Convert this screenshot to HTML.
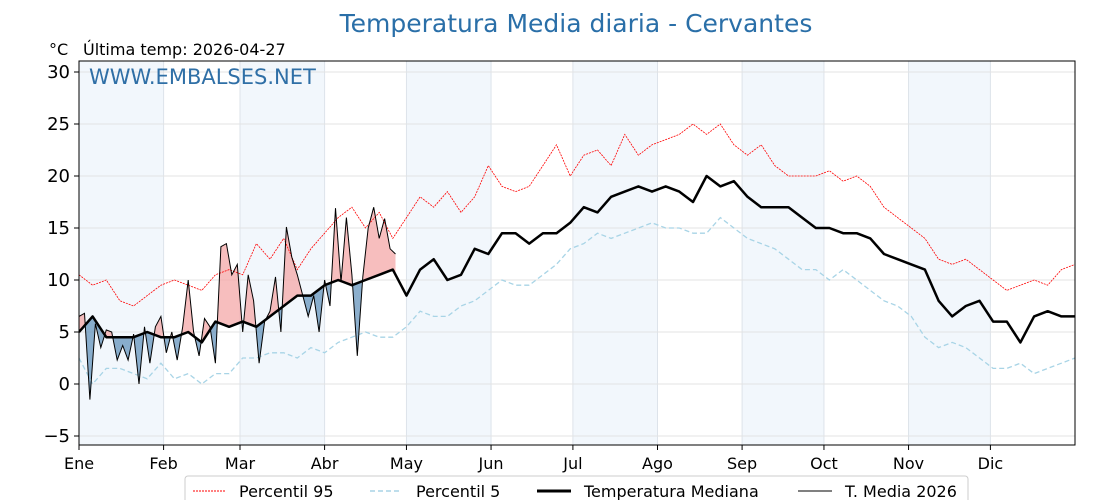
<!DOCTYPE html>
<html><head><meta charset="utf-8"><style>
body{margin:0;background:#fff;}
svg{display:block;font-family:"DejaVu Sans","Liberation Sans",sans-serif;}
</style></head><body>
<svg id="chart" width="1120" height="500">
<defs>
<clipPath id="plotclip"><rect x="79" y="61" width="996" height="384"/></clipPath>
<clipPath id="aboveclip"><path id="aboveP" d=""/></clipPath>
<clipPath id="belowclip"><path id="belowP" d=""/></clipPath>
</defs>
<g id="bands"></g>
<g id="grid"></g>
<g id="series" clip-path="url(#plotclip)"></g>
<rect x="79" y="61" width="996" height="384" fill="none" stroke="#000" stroke-width="1"/>
<g id="axes"></g>
<text x="576" y="32" text-anchor="middle" font-size="25" fill="#2a6fa8">Temperatura Media diaria - Cervantes</text>
<text x="49" y="55" font-size="16" fill="#000">°C</text>
<text x="83" y="55" font-size="16" fill="#000">Última temp: 2026-04-27</text>
<text x="89" y="84" font-size="21" fill="#2f6fa6">WWW.EMBALSES.NET</text>
<g>
<rect x="185" y="476" width="783" height="30" rx="3" fill="#fff" stroke="#ccc"/>
<line x1="193" y1="491" x2="225" y2="491" stroke="red" stroke-width="1" stroke-dasharray="2,1"/>
<text x="239" y="497" font-size="16">Percentil 95</text>
<line x1="370" y1="491" x2="402" y2="491" stroke="#a8d4e6" stroke-width="1.5" stroke-dasharray="5,3"/>
<text x="416" y="497" font-size="16">Percentil 5</text>
<line x1="537" y1="491" x2="571" y2="491" stroke="#000" stroke-width="3"/>
<text x="584" y="497" font-size="16">Temperatura Mediana</text>
<line x1="798" y1="491" x2="832" y2="491" stroke="#000" stroke-width="1"/>
<text x="845" y="497" font-size="16">T. Media 2026</text>
</g>
</svg>
<script>
const months=["Ene","Feb","Mar","Abr","May","Jun","Jul","Ago","Sep","Oct","Nov","Dic"];
const monthStarts=[0,31,59,90,120,151,181,212,243,273,304,334];
const yTicks=[-5,0,5,10,15,20,25,30];
const median=[5,6.5,4.5,4.5,4.5,5,4.5, 4.5,5,4,6,5.5,6, 5.5,6.5,7.5,8.5,8.5,9.5, 10,9.5,10,10.5,11,8.5, 11,12,10,10.5,13,12.5, 14.5,14.5,13.5,14.5,14.5,15.5, 17,16.5,18,18.5,19,18.5, 19,18.5,17.5,20,19,19.5, 18,17,17,17,16,15, 15,14.5,14.5,14,12.5,12, 11.5,11,8,6.5,7.5,8, 6,6,4,6.5,7,6.5,6.5];
const p95=[10.5,9.5,10,8,7.5,8.5,9.5, 10,9.5,9,10.5,11,10.5, 13.5,12,14,11,13,14.5, 16,17,15,16.5,14,16, 18,17,18.5,16.5,18,21, 19,18.5,19,21,23,20, 22,22.5,21,24,22,23, 23.5,24,25,24,25,23, 22,23,21,20,20,20, 20.5,19.5,20,19,17,16, 15,14,12,11.5,12,11, 10,9,9.5,10,9.5,11,11.5];
const p5=[2.5,0,1.5,1.5,1,0.5,2, 0.5,1,0,1,1,2.5, 2.5,3,3,2.5,3.5,3, 4,4.5,5,4.5,4.5,5.5, 7,6.5,6.5,7.5,8,9, 10,9.5,9.5,10.5,11.5,13, 13.5,14.5,14,14.5,15,15.5, 15,15,14.5,14.5,16,15, 14,13.5,13,12,11,11, 10,11,10,9,8,7.5, 6.5,4.5,3.5,4,3.5,2.5, 1.5,1.5,2,1,1.5,2,2.5];
const t2026=[6.5,6.8,-1.5,5.8,3.5,5.2,5,2.3,3.7,2.3,4.8,0,5.5,2,5.5,6.5,3,5,2.3,5.5,10,5,2.7,6.3,5.5,2,13.2,13.5,10.5,11.5,5,10.5,8,2,6,7,10.3,5,15.1,12.2,10.5,8.5,6.5,8.5,5,10,7.5,16.9,9.8,16,10.5,2.7,10.3,15,17,14,15.9,13,12.5];
const NS="http://www.w3.org/2000/svg";
const X0=79,X1=1075,Y0=384,PPU=10.4;
const xs=d=>X0+d*(X1-X0)/365;
const ys=v=>Y0-v*PPU;
function mk(tag,attrs,parent){const e=document.createElementNS(NS,tag);for(const k in attrs)e.setAttribute(k,attrs[k]);parent.appendChild(e);return e;}
const bands=document.getElementById('bands'),grid=document.getElementById('grid'),series=document.getElementById('series'),axes=document.getElementById('axes');
monthStarts.forEach((m,i)=>{
  const end=i<11?monthStarts[i+1]:365;
  if(i%2===0){const r=mk('rect',{x:xs(m),y:61,width:xs(end)-xs(m),height:384,fill:'#f2f7fc'},bands);
  
  }
  const g=mk('line',{x1:xs(m),x2:xs(m),y1:61,y2:445,stroke:'#dde3ea','stroke-width':1},grid);
  
  
  mk('line',{x1:xs(m),x2:xs(m),y1:445,y2:450,stroke:'#000'},axes);
  const t=mk('text',{x:xs(m),y:469,'font-size':16,'text-anchor':'middle'},axes);t.textContent=months[i];
  
  
});
yTicks.forEach(v=>{
  const g=mk('line',{x1:79,x2:1075,y1:ys(v),y2:ys(v),stroke:'#e3e3e3','stroke-width':1},grid);
  
  
  mk('line',{x1:74,x2:79,y1:ys(v),y2:ys(v),stroke:'#000'},axes);
  const t=mk('text',{x:70,y:ys(v)+6,'font-size':18,'text-anchor':'end'},axes);t.textContent=v<0?'\u2212'+(-v):String(v);
  
  
});
const step5=i=>i*5;
const pathOf=(arr,dayf)=>arr.map((v,i)=>(i?'L':'M')+xs(dayf(i)).toFixed(1)+','+ys(v).toFixed(1)).join(' ');
const medAt=d=>{const i=Math.min(Math.floor(d/5),median.length-2);const f=(d-i*5)/5;return median[i]*(1-f)+median[i+1]*f;};
const last=(t2026.length-1)*2;
let medPts=[];for(let d=0;d<=last;d+=1)medPts.push(xs(d).toFixed(1)+','+ys(medAt(d)).toFixed(1));
document.getElementById('aboveP').setAttribute('d','M'+xs(0)+',0 L'+medPts.join(' L')+' L'+xs(last)+',0Z');
document.getElementById('belowP').setAttribute('d','M'+xs(0)+',500 L'+medPts.join(' L')+' L'+xs(last)+',500Z');
let poly='M'+t2026.map((v,i)=>xs(i*2).toFixed(1)+','+ys(v).toFixed(1)).join(' L');
for(let d=last;d>=0;d--)poly+=' L'+xs(d).toFixed(1)+','+ys(medAt(d)).toFixed(1);poly+='Z';
const fa=mk('path',{d:poly,fill:'#f4a8a8',opacity:0.75,'clip-path':'url(#aboveclip)'},series);


const fb=mk('path',{d:poly,fill:'#5b8db8',opacity:0.7,'clip-path':'url(#belowclip)'},series);


const l95=mk('path',{d:pathOf(p95,step5),fill:'none',stroke:'red','stroke-width':0.8,'stroke-dasharray':'2,1'},series);


const l5=mk('path',{d:pathOf(p5,step5),fill:'none',stroke:'#a8d4e6','stroke-width':1.3,'stroke-dasharray':'5,3'},series);


const lm=mk('path',{d:pathOf(median,step5),fill:'none',stroke:'#000','stroke-width':2.5,'stroke-linejoin':'round'},series);


const lt=mk('path',{d:pathOf(t2026,i=>i*2),fill:'none',stroke:'#000','stroke-width':1},series);


</script>
</body></html>
